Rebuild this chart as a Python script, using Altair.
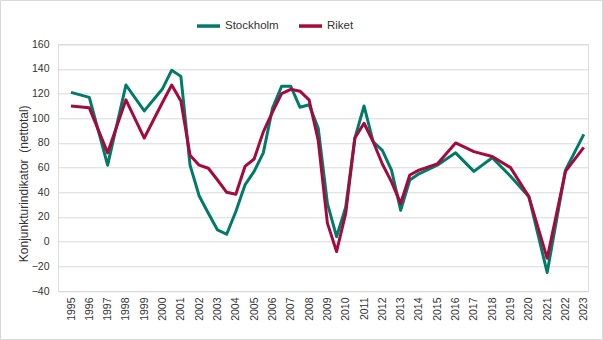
import altair as alt
import pandas as pd

# Time points (fractional years; half-yearly 2000-2014, annual otherwise)
periods = [1995, 1996, 1997, 1998, 1999, 2000, 2000.5, 2001, 2001.5, 2002, 2002.5,
           2003, 2003.5, 2004, 2004.5, 2005, 2005.5, 2006, 2006.5, 2007, 2007.5,
           2008, 2008.5, 2009, 2009.5, 2010, 2010.5, 2011, 2011.5, 2012, 2012.5,
           2013, 2013.5, 2014, 2015, 2016, 2017, 2018, 2019, 2020, 2021, 2022, 2023]

stockholm = [121, 117, 62, 127, 106, 124, 139, 134, 62, 37, 23,
             9.5, 6, 24.5, 46, 57, 72, 108, 126, 126, 109,
             111, 92, 31, 4, 28, 84, 110, 81, 74, 58,
             25.5, 50, 55, 62, 72, 57, 68, 53, 36.5, -25, 58, 87]

riket = [110, 108.5, 72, 115, 84, 113, 127, 114, 70, 62, 59.5,
         50, 40, 38.5, 61, 67, 89, 105, 120, 123.5, 122,
         115, 82, 15, -8, 23, 84, 96, 81, 63, 48.5,
         31, 54, 58, 63, 80, 73, 69, 60, 36.5, -13.5, 57, 76.5]

series_names = ["Stockholm", "Riket"]
series_colors = ["#007B69", "#A6093D"]
year_ticks = list(range(1995, 2024))
y_ticks = list(range(-40, 161, 20))

rows = []
for name, vals in zip(series_names, [stockholm, riket]):
    for t, v in zip(periods, vals):
        rows.append({"period": t, "value": v, "series": name})
df = pd.DataFrame(rows)

FONT = "Liberation Sans"
TXT = "#333333"

lines = alt.Chart(df).mark_line(strokeWidth=3, strokeJoin="round", clip=True).encode(
    x=alt.X("period:Q",
            scale=alt.Scale(domain=[1994.29, 2023.23], nice=False, zero=False),
            axis=alt.Axis(values=year_ticks, format="d", labelAngle=-90, grid=False,
                          domain=False, ticks=False, labelPadding=6, labelFontSize=10.5,
                          labelColor=TXT, labelFont=FONT, title=None,
                          labelOverlap=False)),
    y=alt.Y("value:Q",
            scale=alt.Scale(domain=[-40, 160], nice=False),
            axis=alt.Axis(values=y_ticks, grid=True, gridColor="#d9d9d9", gridWidth=1,
                          domain=False, ticks=False, labelPadding=9, labelFontSize=10.5,
                          labelColor=TXT, labelFont=FONT,
                          title="Konjunkturindikator\u00a0 (nettotal)",
                          titleFont=FONT, titleFontSize=12, titleFontWeight="normal",
                          titleColor=TXT, titleX=-35, titleY=139, titleAngle=270,
                          titleAlign="center", titleBaseline="middle")),
    color=alt.Color("series:N",
                    scale=alt.Scale(domain=series_names, range=series_colors),
                    legend=alt.Legend(title=None, orient="none", direction="horizontal",
                                      legendX=137, legendY=-32, symbolType="stroke",
                                      symbolSize=529, symbolStrokeWidth=3.5,
                                      labelFont=FONT, labelFontSize=11.5, labelColor=TXT,
                                      labelOffset=3, columnPadding=13)),
    order=alt.Order("period:Q"),
)

border = alt.Chart(alt.Data(values=[{}])).mark_rect(
    filled=False, stroke="#d9d9d9", strokeWidth=1, clip=False
).encode(
    x=alt.value(-57.5), x2=alt.value(544.5),
    y=alt.value(-43.8), y2=alt.value(295.2),
)

chart = alt.layer(lines, border).properties(
    width=530, height=246.7,
    autosize=alt.AutoSizeParams(type="none"),
    padding={"left": 58, "top": 44.3, "right": 15, "bottom": 49},
).configure_view(stroke=None).configure(background="white")

chart.save("out.html", embed_options={"renderer": "svg", "actions": False})
